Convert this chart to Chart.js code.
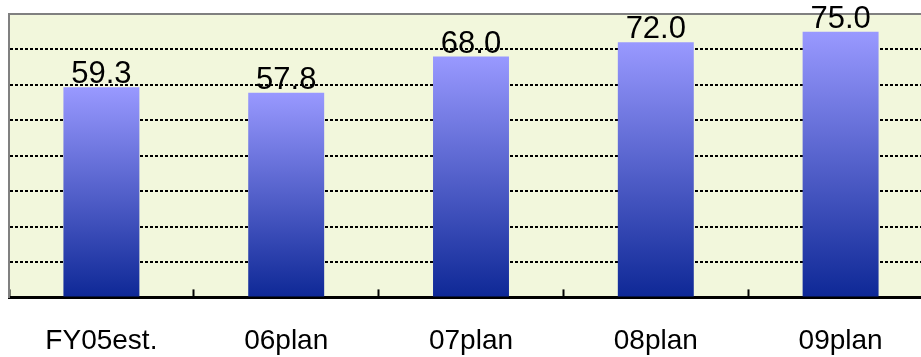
<!DOCTYPE html>
<html>
<head>
<meta charset="utf-8">
<script src="https://cdn.jsdelivr.net/npm/chart.js@4"></script>
<style>
  html, body { margin: 0; padding: 0; background: #ffffff; overflow: hidden; }
  #wrap { width: 940px; height: 357px; }
</style>
</head>
<body>
<div id="wrap"><canvas id="plan-chart" width="940" height="357"></canvas></div>
<script>
// plan chart

const categories = ['FY05est.', '06plan', '07plan', '08plan', '09plan'];
const values = [59.3, 57.8, 68.0, 72.0, 75.0];
const yTicks = [0, 10, 20, 30, 40, 50, 60, 70, 80];

const plotBg = {
    id: 'plotBg',
    beforeDraw(chart) {
        const {ctx, chartArea} = chart;
        ctx.save();
        ctx.fillStyle = '#F2F7DC';
        ctx.fillRect(chartArea.left, chartArea.top, chartArea.right - chartArea.left, chartArea.bottom - chartArea.top);
        ctx.restore();
    }
};

const valueLabels = {
    id: 'valueLabels',
    afterDatasetsDraw(chart) {
        const {ctx} = chart;
        const meta = chart.getDatasetMeta(0);
        ctx.save();
        ctx.font = '31px "Liberation Sans", Arial, sans-serif';
        ctx.fillStyle = '#000';
        ctx.textAlign = 'center';
        ctx.textBaseline = 'alphabetic';
        meta.data.forEach((bar, i) => {
            ctx.fillText(values[i].toFixed(1), bar.x, bar.y - 4);
        });
        ctx.restore();
    }
};

function barGradient(context) {
    const chart = context.chart;
    const y = chart.scales.y;
    if (!y || context.raw === undefined) return '#6f73d8';
    const top = y.getPixelForValue(context.raw);
    const base = y.getPixelForValue(0);
    if (!isFinite(top) || !isFinite(base) || top === base) return '#6f73d8';
    const g = chart.ctx.createLinearGradient(0, top, 0, base);
    g.addColorStop(0, '#9999FF');
    g.addColorStop(1, '#0E2896');
    return g;
}

const barConfig = {
    type: 'bar',
    data: {
        labels: categories,
        datasets: [{
            data: values,
            backgroundColor: barGradient,
            borderWidth: 0,
            categoryPercentage: 1,
            barPercentage: 0.411
        }]
    },
    options: {
        responsive: false,
        animation: false,
        // tick padding is counted twice in the axis height, so pull the bottom back
        layout: { padding: { left: 9, right: 7, top: 14, bottom: -36 } },
        plugins: {
            legend: { display: false },
            tooltip: { enabled: false }
        },
        scales: {
            x: {
                position: 'bottom',
                grid: {
                    drawOnChartArea: false,
                    drawTicks: true,
                    tickLength: -8,
                    color: '#000',
                    tickWidth: 2
                },
                border: { color: '#000', width: 3 },
                ticks: {
                    color: '#000',
                    padding: 35,
                    font: { family: '"Liberation Sans", Arial, sans-serif', size: 28 },
                    maxRotation: 0,
                    autoSkip: false
                }
            },
            x2: {
                type: 'category',
                position: 'top',
                grid: { display: false, drawTicks: false },
                border: { color: '#808080', width: 2 },
                ticks: { display: false }
            },
            y: {
                min: 0,
                max: 80,
                afterBuildTicks(axis) {
                    axis.ticks = yTicks.map(v => ({value: v}));
                },
                grid: {
                    drawTicks: false,
                    lineWidth: 2,
                    color: ctx => (ctx.tick && (ctx.tick.value === 0 || ctx.tick.value === 80)) ? 'rgba(0,0,0,0)' : '#000'
                },
                border: { color: '#808080', width: 2, dash: [3, 2] },
                ticks: { display: false }
            }
        }
    },
    plugins: [plotBg, valueLabels]
};

var planChart = new Chart(document.getElementById('plan-chart'), barConfig);
</script>
</body>
</html>
